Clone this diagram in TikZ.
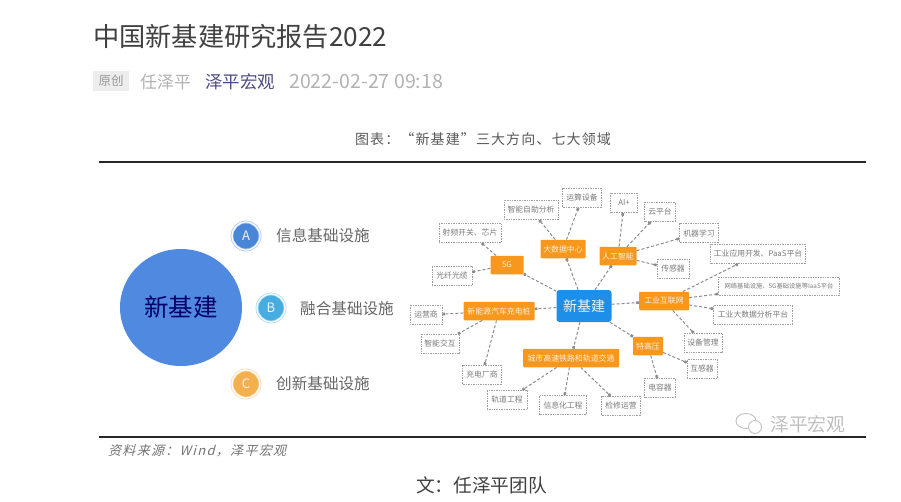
\documentclass[tikz,border=0pt]{standalone}
\usepackage{fontspec}
\setmainfont{Noto Sans CJK SC}
\newfontfamily\capfont[LetterSpace=8]{Noto Sans CJK SC}
\newfontfamily\srcfont[LetterSpace=10,FakeSlant=0.25]{Noto Sans CJK SC}
\usepackage{tikz}
\usetikzlibrary{arrows.meta,shapes.geometric}
\definecolor{sectororange}{HTML}{F7981D}
\definecolor{hubblue}{HTML}{1E8FE8}
\definecolor{bigblue}{HTML}{5089E0}
\definecolor{leafgray}{HTML}{7A7A7A}
\tikzset{
fs/.style={font=\fontsize{#1}{#1}\selectfont},
textnode/.style={inner sep=0pt,anchor=west},
hubbox/.style={fill=hubblue,rounded corners=3pt,text=white!90!hubblue,fs=14,inner sep=0pt},
sectorbox/.style={fill=sectororange,rounded corners=1pt,text=white!85!sectororange,fs=7.9,inner sep=0pt},
leafbox/.style={draw=gray!75,line width=0.7pt,densely dotted,fill=white,text=leafgray,fs=7.8,inner sep=0pt},
link/.style={draw=gray!90,line width=1pt,dash pattern=on 3pt off 2pt,-{Square[length=2.6pt,width=2.6pt]}},
badge/.style={circle,inner sep=0pt,minimum size=28pt,text=white!90!gray,fs=13,double=white,double distance=1.2pt,line width=0.8pt},
}
\begin{document}
\begin{tikzpicture}[x=1pt,y=-1pt]
\useasboundingbox (0,0) rectangle (901,501);
% header
\node[textnode,fs=26.2,text=black!75] (title) at (93,37) {中国新基建研究报告2022};
\node[fill=black!7,text=black!40,fs=12.5,minimum width=36pt,minimum height=20pt,inner sep=0pt] (tag) at (111,81) {原创};
\node[textnode,fs=17,text=black!30] (author) at (140,82) {任泽平};
\node[textnode,fs=17.5,text=blue!30!black!70] (account) at (205,82) {泽平宏观};
\node[textnode,fs=19.6,text=black!30] (stamp) at (289,82) {2022-02-27 09:18};
\node[fs=14,text=black!65] (caption) at (483,139) {\capfont 图表：“新基建”三大方向、七大领域};
\draw[line width=2pt,black!85] (99,161.5)--(866,161.5);
\draw[line width=2pt,black!85] (99,436.5)--(866,436.5);
% left part
\node[ellipse,fill=bigblue,minimum width=122pt,minimum height=117pt,inner sep=0pt,text=blue!40!black,fs=24.5] (big) at (181,307.5) {新基建};
\foreach \n/\x/\y/\c/\t in {
capa/246/236/4A86D8/A,
capb/271/308/47ADE0/B,
capc/246/384/F5B04E/C
}{
\definecolor{capcolor}{HTML}{\c}
\node[badge,fill=capcolor,draw=capcolor!45] (\n) at (\x,\y) {\t};
}
\foreach \n/\x/\y/\t in {
infra/276/236/信息基础设施,
merge/300/309/融合基础设施,
inno/276/384/创新基础设施
}{
\node[textnode,fs=15.6,text=black!60] (\n) at (\x,\y) {\t};
}
% mind map
\node[hubbox,minimum width=55pt,minimum height=32pt] (hub) at (584,306) {新基建};
\foreach \n/\x/\y/\w/\t in {
fiveg/507/265/33/5G,
datac/563/249/45/大数据中心,
ai/618/256/37/人工智能,
iiot/664/301/50/工业互联网,
uhv/648/346/30/特高压,
rail/571/358/96/城市高速铁路和轨道交通,
ev/499/311/71/新能源汽车充电桩
}{
\node[sectorbox,minimum width=\w pt,minimum height=18.5pt] (\n) at (\x,\y) {\t};
\draw[link] (hub)--(\n);
}
\foreach \n/\x/\y/\w/\p/\t in {
fiber/452/276/40/fiveg/光纤光缆,
rfchip/470/233/62/fiveg/射频开关、芯片,
selfbi/531/210/54/datac/智能自助分析,
compute/582/198/39/datac/运算设备,
aiplus/624/203/27/ai/AI+,
cloud/660/212/31/ai/云平台,
mlearn/699/233/39/ai/机器学习,
sensor/673/269/32/ai/传感器,
iapp/758/254/95/iiot/工业应用开发、PaaS平台,
ibig/753/315/79/iiot/工业大数据分析平台,
equip/703/343/38/iiot/设备管理,
transf/702/369/30/uhv/互感器,
capac/660/388/31/uhv/电容器,
maint/621/406/39/rail/检修运营,
infoeng/563/405/47/rail/信息化工程,
trackeng/507/400/40/rail/轨道工程,
charge/482/375/39/ev/充电厂商,
smart/440/344/38/ev/智能交互,
operator/426/315/32/ev/运营商
}{
\node[leafbox,minimum width=\w pt,minimum height=19.5pt] (\n) at (\x,\y) {\t};
\draw[link] (\p)--(\n);
}
\node[leafbox,fs=6.3,minimum width=121pt,minimum height=18pt] (inet) at (779,286) {网络基础设施、5G基础设施等IaaS平台};
\draw[link] (iiot)--(inet);
% footer
\node[textnode,fs=13,text=black!55] (source) at (108,451) {\srcfont 资料来源：Wind，泽平宏观};
\node[fs=18.7,text=black!75] (team) at (481.5,485) {文：任泽平团队};
% watermark
\node[draw=black!25,ellipse,line width=0.9pt,minimum width=20pt,minimum height=15pt,inner sep=0pt] (chata) at (746,421) {};
\node[draw=black!25,fill=white,circle,line width=0.9pt,minimum size=13pt,inner sep=0pt] (chatb) at (755,427) {};
\node[textnode,fs=18.8,text=black!25] (mark) at (770,424) {泽平宏观};
\end{tikzpicture}
\end{document}
